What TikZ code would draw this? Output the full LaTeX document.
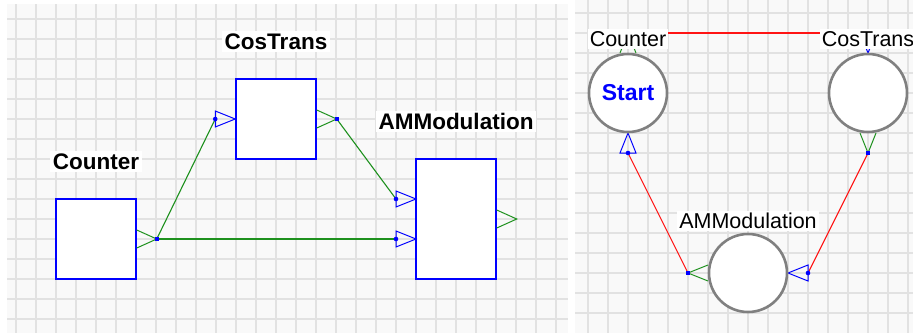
\documentclass[tikz,border=0pt]{standalone}
\usepackage{fontspec}
\setmainfont{Liberation Sans}
\usetikzlibrary{positioning}

\definecolor{panelbg}{RGB}{249,249,249}
\definecolor{gridln}{RGB}{226,226,226}
\definecolor{blkblue}{RGB}{0,0,255}
\definecolor{portgreen}{RGB}{30,145,30}
\definecolor{wirered}{RGB}{255,20,20}
\definecolor{ringgray}{RGB}{128,128,128}

\tikzset{
  gridline/.style={draw=gridln, line width=1.6},
  blk/.style={draw=blkblue, line width=1.5, fill=white, minimum width=80, minimum height=80, inner sep=0},
  ring/.style={circle, draw=ringgray, line width=2.6, fill=white, minimum size=78, inner sep=0},
  boldlbl/.style={fill=white, inner sep=2.5, font=\fontsize{22.5}{26}\selectfont\bfseries},
  lbl/.style={fill=white, inner sep=2, font=\fontsize{21.5}{25}\selectfont},
  outv/.style={draw=portgreen, line width=1},
  intri/.style={draw=blkblue, line width=1},
  wire/.style={portgreen, line width=1.1},
  redwire/.style={wirered, line width=1.1},
}

\begin{document}
\begin{tikzpicture}[x=1pt, y=-1pt]
    \useasboundingbox (0,0) rectangle (913,333);
    \fill[white] (0,0) rectangle (913,333);

    % Фон двух панелей с сеткой
    \fill[panelbg] (7,4) rectangle (568,333);
    \fill[panelbg] (575,0) rectangle (913,333);
    \foreach \gx in {16,36,...,556} \draw[gridline] (\gx,4) -- (\gx,333);
    \foreach \gy in {19,39,...,319} \draw[gridline] (7,\gy) -- (568,\gy);
    \foreach \gx in {588,608,...,908} \draw[gridline] (\gx,0) -- (\gx,333);
    \foreach \gy in {13,33,...,313} \draw[gridline] (575,\gy) -- (913,\gy);

    % Левая панель: блоки
    \node[blk] (counter) at (96,239) {};
    \node[blk] (costrans) at (276,119) {};
    \node[blk, minimum height=120] (ammod) at (456,219) {};

    \node[boldlbl, above=26pt of counter] (counterlbl) {Counter};
    \node[boldlbl, above=26pt of costrans] (costranslbl) {CosTrans};
    \node[boldlbl, above=26pt of ammod] (ammodlbl) {AMModulation};

    % Порты
    \coordinate[right=20pt of counter.east] (counterout);
    \coordinate[left=20pt of costrans.west] (costransin);
    \coordinate[right=20pt of costrans.east] (costransout);
    \coordinate (ammodina) at (396,199);
    \coordinate (ammodinb) at (396,239);
    \coordinate[right=20pt of ammod.east] (ammodout);

    % Связи
    \draw[wire] (counterout) -- (costransin);
    \draw[wire] (counterout) -- (ammodinb);
    \draw[wire] (costransout) -- (ammodina);

    % Выходы (зелёные)
    \draw[outv] (counterout) ++(-20,-9) -- (counterout) -- ++(-20,9);
    \draw[outv] (costransout) ++(-20,-9) -- (costransout) -- ++(-20,9);
    \draw[outv] (ammodout) ++(-20,-9) -- (ammodout) -- ++(-20,9);
    % Входы (синие)
    \draw[intri] (costransin) ++(0,-8) -- ++(20,8) -- ++(-20,8) -- cycle;
    \draw[intri] (ammodina) ++(0,-8) -- ++(20,8) -- ++(-20,8) -- cycle;
    \draw[intri] (ammodinb) ++(0,-8) -- ++(20,8) -- ++(-20,8) -- cycle;
    \fill[blkblue] (costransin) circle (2.3);
    \fill[blkblue] (ammodina) circle (2.3);
    \fill[blkblue] (ammodinb) circle (2.3);
    \fill[blkblue] (counterout) +(-2,-2) rectangle +(2,2);
    \fill[blkblue] (costransout) +(-2,-2) rectangle +(2,2);

    % Правая панель: порты и связи
    \coordinate (rcounterin) at (628,153);
    \coordinate (rcounterout) at (628,33);
    \coordinate (rcostransin) at (868,33);
    \coordinate (rcostransout) at (868,153);
    \coordinate (rammodout) at (688,273);
    \coordinate (rammodin) at (808,273);

    \draw[redwire] (rcounterout) -- (rcostransin);
    \draw[redwire] (rammodout) -- (rcounterin);
    \draw[redwire] (rcostransout) -- (rammodin);

    \draw[outv] (rcounterout) ++(-8,20) -- (rcounterout) -- ++(8,20);
    \draw[outv] (rcostransout) ++(-8,-20) -- (rcostransout) -- ++(8,-20);
    \draw[outv] (rammodout) ++(20,-8) -- (rammodout) -- ++(20,8);
    \draw[intri] (rcounterin) ++(-8,0) -- ++(8,-20) -- ++(8,20) -- cycle;
    \draw[intri] (rcostransin) ++(-8,0) -- ++(8,20) -- ++(8,-20) -- cycle;
    \draw[intri] (rammodin) ++(0,-8) -- ++(-20,8) -- ++(20,8) -- cycle;
    \fill[blkblue] (rcounterin) circle (2.3);
    \fill[blkblue] (rammodin) circle (2.3);
    \fill[blkblue] (rcostransout) +(-2,-2) rectangle +(2,2);
    \fill[blkblue] (rammodout) +(-2,-2) rectangle +(2,2);

    % Узлы-кружки
    \node[ring, text=blkblue, font=\fontsize{23}{26}\selectfont\bfseries] (rcounter) at (628,93) {Start};
    \node[ring] (rcostrans) at (868,93) {};
    \node[ring] (rammod) at (748,273) {};

    \node[lbl, above=4pt of rcounter] (rcounterlbl) {Counter};
    \node[lbl, above=4pt of rcostrans] (rcostranslbl) {CosTrans};
    \node[lbl, above=2pt of rammod] (rammodlbl) {AMModulation};
\end{tikzpicture}
\end{document}
